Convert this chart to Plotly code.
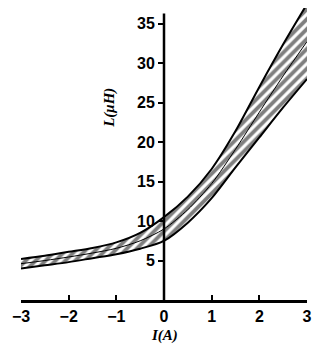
import plotly.graph_objects as go

current = [-3, -2.5, -2, -1.5, -1, -0.5, 0, 0.5, 1, 1.5, 2, 2.5, 3]
upper = [5.2, 5.6, 6.1, 6.6, 7.3, 8.5, 10.5, 13.1, 16.6, 21.4, 27.0, 32.4, 37.5]
lower = [4.0, 4.4, 4.8, 5.3, 5.8, 6.5, 7.5, 9.8, 12.9, 16.8, 20.6, 24.4, 28.0]
x_ticks = [-3, -2, -1, 0, 1, 2, 3]
y_ticks = [5, 10, 15, 20, 25, 30, 35]
mid = [(u + l) / 2 for u, l in zip(upper, lower)]

fig = go.Figure()
fig.add_trace(go.Scatter(x=current, y=lower, mode="lines",
                         line=dict(color="black", width=2, shape="spline", smoothing=0.8),
                         showlegend=False, hoverinfo="skip"))
fig.add_trace(go.Scatter(x=current, y=upper, mode="lines", fill="tonexty",
                         fillcolor="white",
                         fillpattern=dict(shape="/", fgcolor="black", bgcolor="white",
                                          size=7, solidity=0.55),
                         line=dict(color="black", width=2, shape="spline", smoothing=0.8),
                         showlegend=False, hoverinfo="skip"))
fig.add_trace(go.Scatter(x=current, y=mid, mode="lines",
                         line=dict(color="black", width=1, shape="spline", smoothing=0.8),
                         showlegend=False, hoverinfo="skip"))

tf = dict(size=16, family="Liberation Sans", color="black", weight="bold")

fig.update_layout(
    width=333, height=352,
    margin=dict(l=13, r=34, t=0, b=60),
    plot_bgcolor="white", paper_bgcolor="white",
    xaxis=dict(range=[-3, 3], tickvals=x_ticks, showline=True, linecolor="black",
               linewidth=2.5, ticks="inside", ticklen=5, tickwidth=2, tickcolor="black",
               showgrid=False, zeroline=False, tickfont=tf, automargin=False,
               fixedrange=True),
    yaxis=dict(range=[0, 37], tickvals=y_ticks, anchor="free", position=0.5,
               showline=False, ticks="outside", ticklen=6, tickwidth=2, tickcolor="black",
               showgrid=False, zeroline=False, tickfont=tf, automargin=False,
               fixedrange=True),
    shapes=[dict(type="line", xref="x", yref="y", x0=0, x1=0, y0=0, y1=36.3,
                 line=dict(color="black", width=2.5))],
    annotations=[
        dict(text="<b><i>I(A)</i></b>", xref="paper", yref="paper", x=0.5, y=-0.12,
             showarrow=False, font=dict(size=15, family="Liberation Serif", color="black"),
             xanchor="center", yanchor="middle"),
        dict(text="<b><i>L(μH)</i></b>", xref="paper", yref="paper", x=0.311, y=0.658,
             showarrow=False, textangle=-90,
             font=dict(size=15, family="Liberation Serif", color="black"),
             xanchor="center", yanchor="middle"),
    ],
)

fig.write_html("out.html")
